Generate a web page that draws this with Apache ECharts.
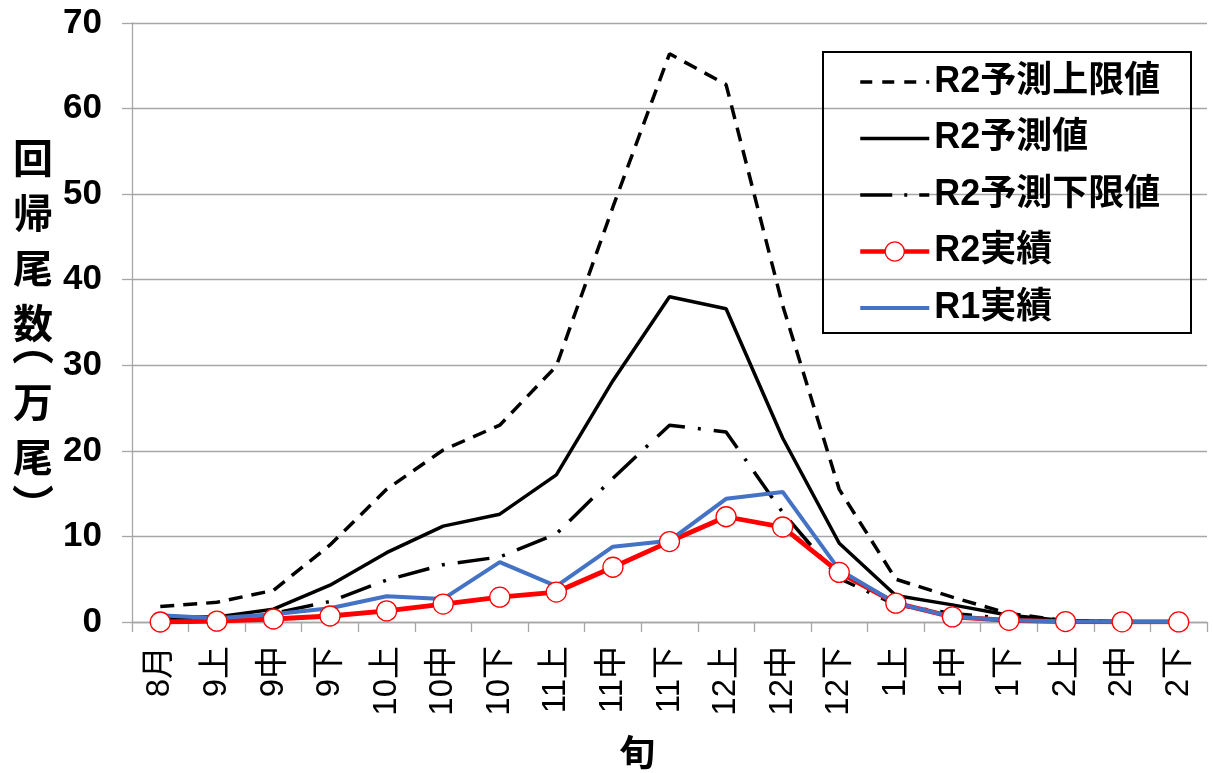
<!DOCTYPE html>
<html>
<head>
<meta charset="utf-8">
<script src="https://cdn.jsdelivr.net/npm/echarts@6/dist/echarts.min.js"></script>
<style>html,body{margin:0;padding:0;background:#fff}#c{width:1213px;height:773px}</style>
</head>
<body>
<div id="c"></div>
<script>
const categories = ['8月','9上','9中','9下','10上','10中','10下','11上','11中','11下','12上','12中','12下','1上','1中','1下','2上','2中','2下'];
const upperLimit = [1.8, 2.3, 3.7, 9.0, 15.5, 20.1, 23.0, 29.9, 48.5, 66.4, 62.8, 37.0, 15.5, 5.0, 2.9, 1.0, 0.15, 0.05, 0.02];
const predicted  = [0.5, 0.6, 1.5, 4.3, 8.1, 11.2, 12.6, 17.2, 28.2, 38.0, 36.6, 21.5, 9.2, 3.1, 2.0, 0.8, 0.15, 0.04, 0.01];
const lowerLimit = [0.3, 0.4, 1.0, 2.4, 4.9, 6.7, 7.6, 10.3, 16.8, 23.0, 22.2, 12.8, 5.1, 2.0, 1.0, 0.4, 0.08, 0.02, 0.01];
const actualR2   = [0.0, 0.1, 0.35, 0.7, 1.3, 2.1, 2.9, 3.5, 6.4, 9.4, 12.3, 11.1, 5.8, 2.2, 0.6, 0.2, 0.05, 0.02, 0.01];
const actualR1   = [0.8, 0.45, 0.9, 1.6, 3.0, 2.7, 7.0, 4.2, 8.8, 9.5, 14.4, 15.2, 6.1, 2.2, 0.6, 0.2, 0.05, 0.03, 0.02];
const yTicks = [0, 70, 10]; // min, max, interval
const seriesNames = ['R2予測上限値','R2予測値','R2予測下限値','R2実績','R1実績'];
const yTitleParts = ['回\n帰\n尾\n数', '︵', '万\n尾', '︶'];
const xTitle = '旬';

const chart = echarts.init(document.getElementById('c'));
const latin = '"Liberation Sans Narrow","Liberation Sans","Noto Sans CJK JP",sans-serif';
const gray = '#a6a6a6';

const dashUpper = [14, 9];
const dashLower = [32, 13, 3, 13];
const hidden = {color: 'rgba(0,0,0,0)', borderWidth: 0, opacity: 0};

chart.setOption({
  animation: false,
  backgroundColor: '#fff',
  grid: {left: 132, right: 6, top: 23, bottom: 151, containLabel: false},
  legend: {
    orient: 'vertical',
    left: 858, top: 62,
    padding: 0,
    itemWidth: 69, itemHeight: 24, itemGap: 16.5,
    textStyle: {fontSize: 36, fontWeight: 'bold', color: '#000', fontFamily: latin, lineHeight: 40, padding: [0,0,0,0]},
    data: [
      {name: seriesNames[0], itemStyle: hidden, lineStyle: {width: 3.5, type: [12, 10], color: '#000'}},
      {name: seriesNames[1], itemStyle: hidden, lineStyle: {width: 3.5, type: 'solid', color: '#000'}},
      {name: seriesNames[2], itemStyle: hidden, lineStyle: {width: 3.5, type: [32, 12, 3, 12], color: '#000'}},
      {name: seriesNames[3], itemStyle: {color: '#fff', borderColor: '#ff0000', borderWidth: 1.3}, lineStyle: {width: 4.5, color: '#ff0000'}},
      {name: seriesNames[4], itemStyle: hidden, lineStyle: {width: 4, color: '#4472c4'}}
    ]
  },
  xAxis: {
    type: 'category',
    data: categories,
    boundaryGap: true,
    axisLine: {lineStyle: {color: gray, width: 1.3}},
    axisTick: {show: true, length: 10, lineStyle: {color: gray, width: 1.3}},
    axisLabel: {rotate: 90, interval: 0, margin: 24, fontSize: 33, fontWeight: 'normal', color: '#000', fontFamily: latin}
  },
  yAxis: {
    type: 'value',
    min: yTicks[0], max: yTicks[1], interval: yTicks[2],
    axisLine: {show: true, lineStyle: {color: gray, width: 1.3}},
    axisTick: {show: true, length: 10, lineStyle: {color: gray, width: 1.3}},
    splitLine: {lineStyle: {color: gray, width: 1.3}},
    axisLabel: {margin: 30, fontSize: 35, fontWeight: 'bold', color: '#000', fontFamily: latin}
  },
  graphic: [
    {type: 'rect', shape: {x: 823, y: 52, width: 368, height: 281}, style: {fill: 'rgba(0,0,0,0)', stroke: '#000', lineWidth: 2}, z: 10},
    {type: 'text', x: 33, y: 130, z: 10, style: {
      text: yTitleParts[0], align: 'center', verticalAlign: 'top', fill: '#000',
      font: 'bold 40px "Noto Sans CJK JP", sans-serif', lineHeight: 55
    }},
    {type: 'text', x: 33, y: 344, z: 10, style: {
      text: yTitleParts[1], align: 'center', verticalAlign: 'middle', fill: '#000',
      font: 'bold 42px "Noto Sans CJK JP", sans-serif'
    }},
    {type: 'text', x: 33, y: 374, z: 10, style: {
      text: yTitleParts[2], align: 'center', verticalAlign: 'top', fill: '#000',
      font: 'bold 40px "Noto Sans CJK JP", sans-serif', lineHeight: 55
    }},
    {type: 'text', x: 33, y: 505, z: 10, style: {
      text: yTitleParts[3], align: 'center', verticalAlign: 'middle', fill: '#000',
      font: 'bold 42px "Noto Sans CJK JP", sans-serif'
    }},
    {type: 'text', x: 637, y: 752, z: 10, style: {
      text: xTitle, align: 'center', verticalAlign: 'middle', fill: '#000',
      font: 'bold 36px "Noto Sans CJK JP", sans-serif'
    }}
  ],
  series: [
    {name: seriesNames[0], type: 'line', data: upperLimit, symbol: 'none', itemStyle: {color: '#000'},
     lineStyle: {color: '#000', width: 3.5, type: dashUpper}},
    {name: seriesNames[1], type: 'line', data: predicted, symbol: 'none', itemStyle: {color: '#000'},
     lineStyle: {color: '#000', width: 3.5, type: 'solid'}},
    {name: seriesNames[2], type: 'line', data: lowerLimit, symbol: 'none', itemStyle: {color: '#000'},
     lineStyle: {color: '#000', width: 3.5, type: dashLower}},
    {name: seriesNames[3], type: 'line', data: actualR2, symbol: 'circle', symbolSize: 20, showAllSymbol: true,
     itemStyle: {color: '#fff', borderColor: '#ff0000', borderWidth: 1.3},
     lineStyle: {color: '#ff0000', width: 4.8}},
    {name: seriesNames[4], type: 'line', data: actualR1, symbol: 'none', itemStyle: {color: '#4472c4'},
     lineStyle: {color: '#4472c4', width: 4}}
  ]
});
</script>
</body>
</html>
